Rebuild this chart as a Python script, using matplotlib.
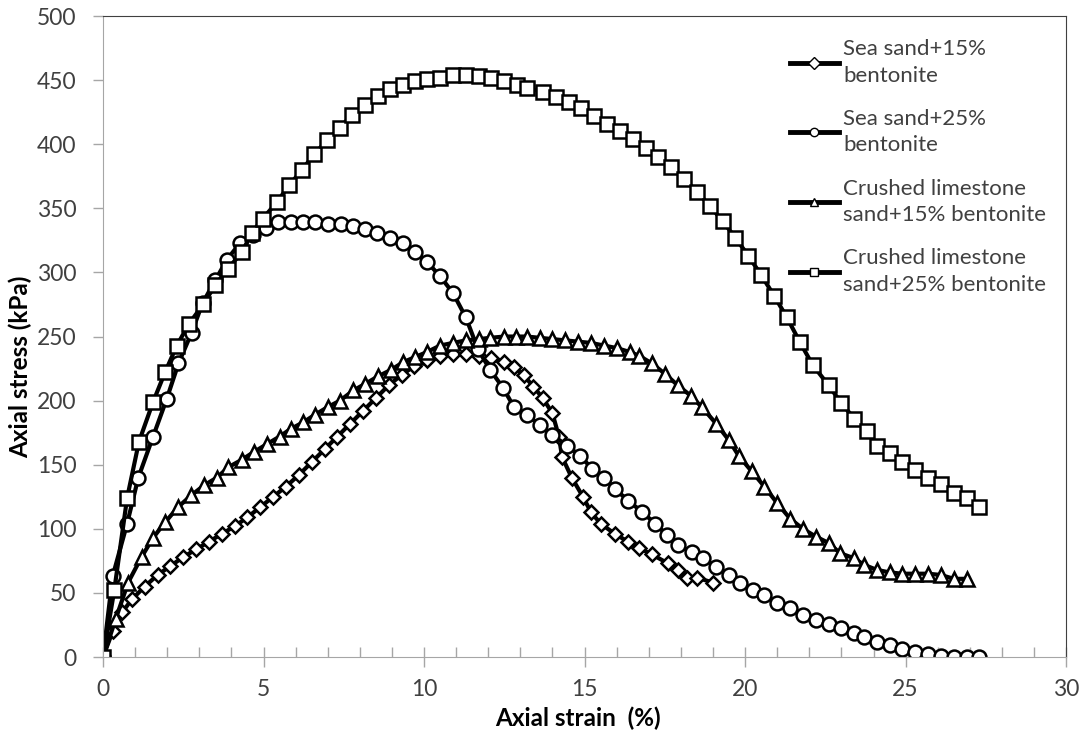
"""
Axial stress vs axial strain for sand / bentonite mixtures.
"""
import matplotlib
matplotlib.use('Agg')
import matplotlib.pyplot as plt
from matplotlib.lines import Line2D
from matplotlib.ticker import MultipleLocator

# Data ----------------------------------------------------

sea15_x = [0, 0.3, 0.6, 0.9, 1.3, 1.7, 2.1, 2.5, 2.9, 3.3, 3.7, 4.1, 4.5, 4.9, 5.3, 5.7,
           6.1, 6.5, 6.9, 7.3, 7.7, 8.1, 8.5, 8.9, 9.3, 9.7, 10.1, 10.5, 10.9, 11.3, 11.7,
           12.1, 12.5, 12.8, 13.1, 13.4, 13.7, 14.0, 14.2, 14.3, 14.6, 14.95, 15.2, 15.5,
           15.95, 16.35, 16.7, 17.1, 17.6, 17.9, 18.2, 18.5, 19.0]
sea15_y = [0, 20, 35, 45, 55, 64, 71, 78, 84, 90, 96, 102, 109, 117, 125, 133,
           142, 152, 162, 172, 182, 192, 202, 212, 220, 227, 232, 235, 236, 236, 235,
           233, 230, 226, 220, 211, 202, 190, 172, 156, 140, 125, 113, 104,
           96, 90, 85, 80, 73, 68, 62, 62, 58]

sea25_x = [0, 0.3, 0.75, 1.1, 1.56, 1.98, 2.35, 2.76, 3.1, 3.5, 3.86, 4.27, 4.68, 5.08,
           5.45, 5.86, 6.23, 6.6, 7.0, 7.41, 7.79, 8.16, 8.54, 8.94, 9.35, 9.72, 10.1,
           10.5, 10.9, 11.3, 11.68, 12.06, 12.46, 12.8, 13.2, 13.6, 14.0, 14.45, 14.86,
           15.23, 15.6, 15.95, 16.36, 16.8, 17.2, 17.57, 17.9, 18.35, 18.7, 19.1, 19.5,
           19.85, 20.25, 20.6, 21.0, 21.4, 21.8, 22.2, 22.6, 23.0, 23.4, 23.7, 24.1, 24.5,
           24.9, 25.3, 25.7, 26.1, 26.5, 26.9, 27.3]
sea25_y = [0, 63, 104, 140, 172, 201, 229, 253, 276, 294, 310, 323, 329, 335,
           339, 339, 339, 339, 338, 338, 336, 334, 331, 327, 323, 316, 308,
           297, 284, 265, 240, 224, 210, 195, 189, 181, 173, 165, 157,
           147, 140, 131, 122, 113, 104, 95, 87, 82, 77, 70, 64,
           58, 52, 48, 42, 38, 33, 29, 26, 23, 19, 16, 12, 9,
           6, 4, 2, 1, 0, 0, 0]

lime15_x = [0, 0.4, 0.78, 1.2, 1.56, 1.93, 2.34, 2.74, 3.15, 3.55, 3.9, 4.33, 4.7, 5.1,
            5.5, 5.85, 6.23, 6.6, 7.0, 7.38, 7.8, 8.16, 8.57, 8.97, 9.35, 9.72, 10.1,
            10.5, 10.9, 11.3, 11.7, 12.06, 12.5, 12.85, 13.2, 13.6, 14.0, 14.4, 14.8,
            15.2, 15.6, 16.0, 16.4, 16.7, 17.1, 17.5, 17.9, 18.3, 18.65, 19.1, 19.5,
            19.8, 20.2, 20.6, 21.0, 21.4, 21.8, 22.2, 22.6, 22.96, 23.4, 23.7, 24.1,
            24.5, 24.9, 25.3, 25.7, 26.1, 26.5, 26.9]
lime15_y = [0, 30, 58, 78, 93, 105, 117, 126, 134, 140, 148, 154, 160, 166,
            172, 178, 183, 189, 195, 200, 208, 213, 219, 224, 230, 234, 238,
            243, 245, 247, 248, 249, 250, 250, 250, 249, 248, 247, 246,
            245, 243, 241, 238, 235, 229, 221, 212, 204, 195, 182, 169,
            157, 145, 133, 120, 108, 100, 94, 89, 81, 77, 72, 68,
            66, 65, 65, 65, 64, 61, 61]

lime25_x = [0, 0.35, 0.75, 1.12, 1.56, 1.93, 2.3, 2.68, 3.12, 3.49, 3.9, 4.33, 4.64,
            4.98, 5.42, 5.8, 6.2, 6.57, 6.98, 7.38, 7.76, 8.16, 8.57, 8.94, 9.35, 9.72,
            10.1, 10.5, 10.9, 11.3, 11.7, 12.1, 12.5, 12.9, 13.2, 13.7, 14.1, 14.5,
            14.9, 15.3, 15.7, 16.1, 16.5, 16.9, 17.3, 17.7, 18.1, 18.5, 18.9, 19.3,
            19.7, 20.1, 20.5, 20.9, 21.3, 21.7, 22.1, 22.6, 23.0, 23.4, 23.8, 24.1,
            24.5, 24.9, 25.3, 25.7, 26.1, 26.5, 26.9, 27.3]
lime25_y = [0, 52, 124, 168, 199, 222, 243, 260, 275, 290, 303, 316, 331,
            342, 355, 368, 380, 392, 403, 413, 423, 431, 438, 443, 446, 449,
            451, 452, 454, 454, 453, 452, 449, 446, 444, 441, 437, 433,
            428, 422, 416, 410, 404, 397, 390, 382, 373, 363, 352, 340,
            327, 313, 298, 282, 265, 246, 228, 212, 198, 186, 176, 165,
            159, 152, 146, 140, 135, 128, 124, 117]

labels = ['Sea sand+15%\nbentonite', 'Sea sand+25%\nbentonite',
          'Crushed limestone\nsand+15% bentonite', 'Crushed limestone\nsand+25% bentonite']
markers = ['D', 'o', '^', 's']
msizes = [7, 10, 10, 10]

# Plot ====================================================

plt.rcParams['font.family'] = ['Lato', 'DejaVu Sans']

fig = plt.figure(figsize=(10.89, 7.36), dpi=100)
ax = fig.add_axes([0.0946, 0.1073, 0.8844, 0.8709])

series = [(sea15_x, sea15_y), (sea25_x, sea25_y), (lime15_x, lime15_y), (lime25_x, lime25_y)]
for (xs, ys), m, ms in zip(series, markers, msizes):
    ax.plot(xs, ys, color='black', lw=3, marker=m, ms=ms, mfc='white',
            mec='black', mew=1.8)

ax.set_xlim(0, 30)
ax.set_ylim(0, 500)
ax.xaxis.set_major_locator(MultipleLocator(5))
ax.xaxis.set_minor_locator(MultipleLocator(1))
ax.yaxis.set_major_locator(MultipleLocator(50))
ax.tick_params(axis='x', which='major', direction='inout', length=14, width=1,
               color='#A6A6A6', labelsize=16.5, labelcolor='#404040', pad=9)
ax.tick_params(axis='x', which='minor', direction='in', length=7, width=1, color='#A6A6A6')
ax.tick_params(axis='y', which='major', direction='out', length=7, width=1,
               color='#A6A6A6', labelsize=16.5, labelcolor='#404040', pad=12)
for s in ['left', 'bottom']:
    ax.spines[s].set_color('#A6A6A6')
for s in ['top', 'right']:
    ax.spines[s].set_color('#404040')

ax.set_xlabel('Axial strain  (%)', fontsize=17.5, fontweight='bold')
ax.set_ylabel('Axial stress (kPa)', fontsize=17.5, fontweight='bold')
ax.xaxis.set_label_coords(0.493, -0.078)
ax.yaxis.set_label_coords(-0.074, 0.452)

handles = [Line2D([], [], color='black', lw=3.5, marker=m, ms=6, mfc='white',
                  mec='black', mew=1) for m in markers]
leg = ax.legend(handles, labels, loc='upper right', bbox_to_anchor=(1.0, 0.995),
                frameon=False, fontsize=16, handlelength=2.2, handletextpad=0.2,
                labelspacing=1.05, labelcolor='#404040')
for t in leg.get_texts():
    t.set_linespacing(1.4)

fig.savefig('out.png', dpi=100)
